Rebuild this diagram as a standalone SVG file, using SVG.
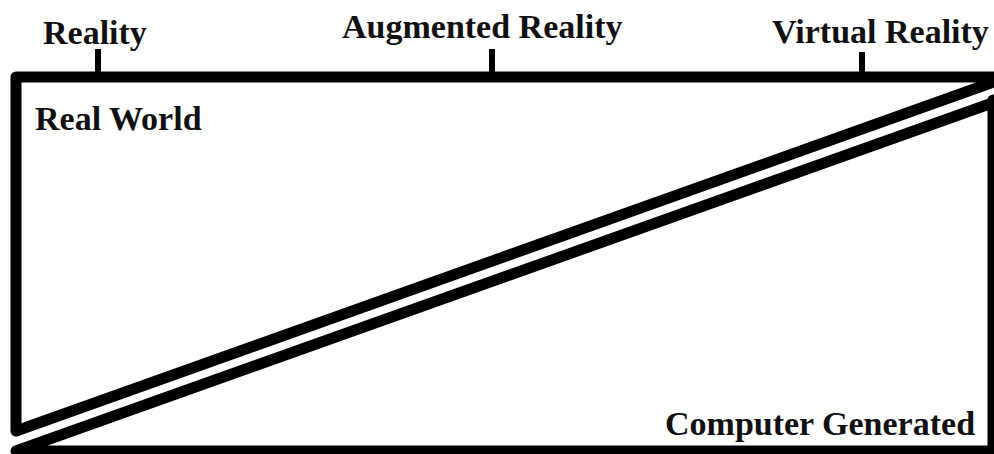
<svg xmlns="http://www.w3.org/2000/svg" width="994" height="454" viewBox="0 0 994 454">
<style>
.t{font-family:"Liberation Serif","Times New Roman",serif;font-weight:bold;font-size:34px;fill:#111}
.s{fill:none;stroke:#000;stroke-width:11;stroke-linejoin:round;stroke-linecap:round}
.k{stroke:#000;stroke-width:6}
</style>
<rect width="994" height="454" fill="#fff"/>
<g id="scale">
<line class="k" x1="98" y1="49" x2="98" y2="75"/>
<line class="k" x1="492" y1="49" x2="492" y2="75"/>
<line class="k" x1="862" y1="52" x2="862" y2="75"/>
<text class="t" x="43" y="44">Reality</text>
<text class="t" x="342" y="37.5">Augmented Reality</text>
<text class="t" x="772" y="43">Virtual Reality</text>
</g>
<g id="real-world">
<path class="s" d="M1005,77 L16,77 L16,431 L1005,78"/>
<text class="t" x="35" y="130">Real World</text>
</g>
<g id="computer-generated">
<path class="s" d="M1005,98.5 L16,451 L1005,451 M993,100 L993,460"/>
<text class="t" x="665" y="435">Computer Generated</text>
</g>
</svg>
